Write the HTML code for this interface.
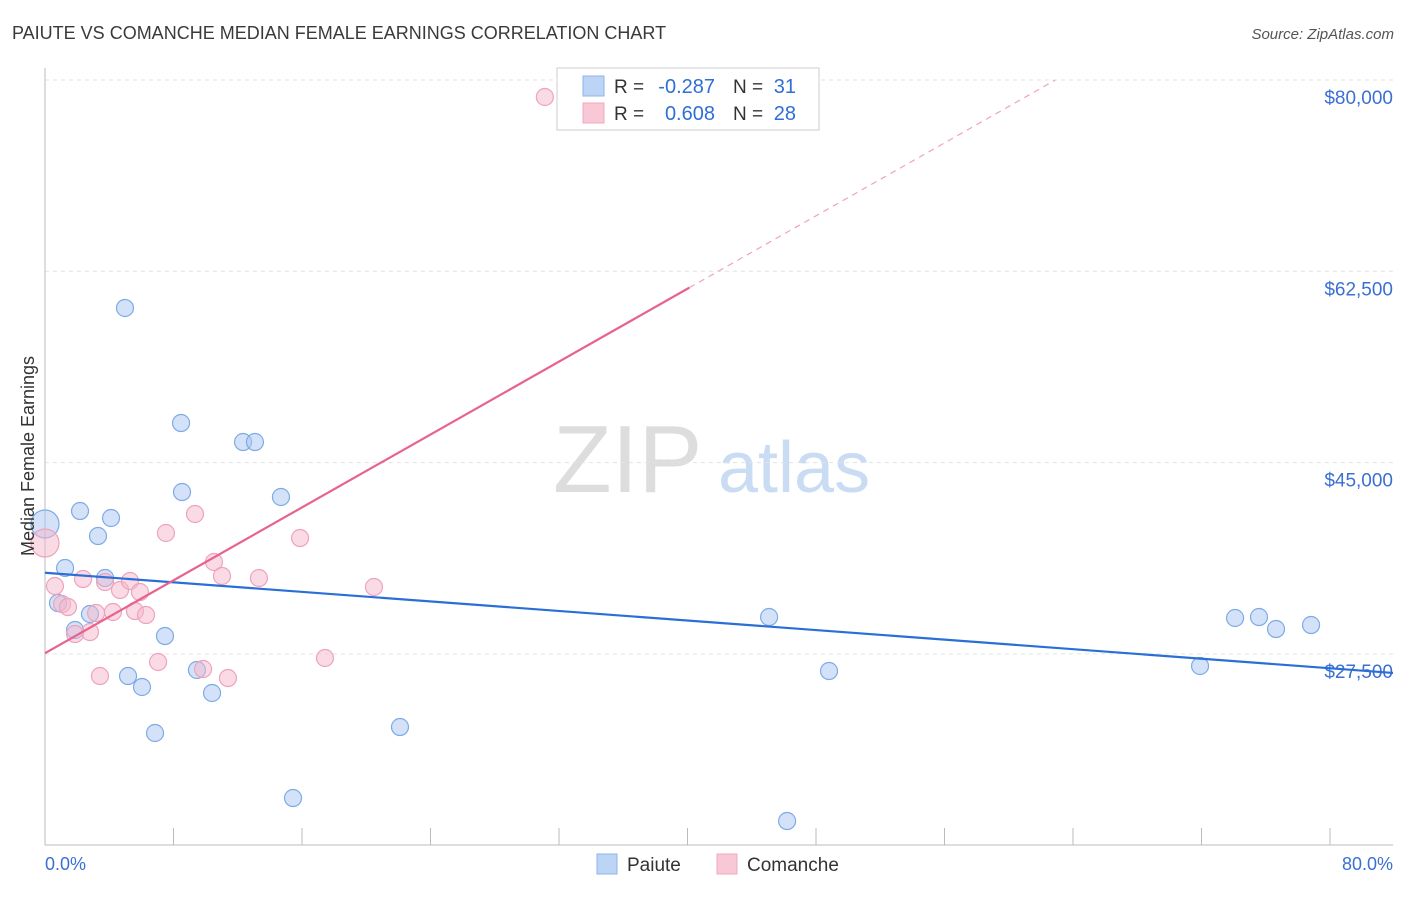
<!DOCTYPE html>
<html><head><meta charset="utf-8"><style>
body{margin:0;background:#fff;font-family:"Liberation Sans",sans-serif;}
svg text{font-family:"Liberation Sans",sans-serif;}
</style></head><body>
<svg id="chart" width="1406" height="892" xmlns="http://www.w3.org/2000/svg">
<text x="12" y="39" font-size="18" fill="#3a3a3a">PAIUTE VS COMANCHE MEDIAN FEMALE EARNINGS CORRELATION CHART</text>
<text x="1394" y="39" font-size="15" fill="#555" font-style="italic" text-anchor="end">Source: ZipAtlas.com</text>
<g>
<text x="553" y="492" font-size="96" fill="#ddd" font-family="Liberation Serif, serif">ZIP</text>
<text x="718" y="492" font-size="72" fill="#c9dcf3">atlas</text>
</g>
<g id="grid"></g>
<g id="axes"></g>
<g id="marks"></g>
<text transform="translate(34,456) rotate(-90)" font-size="18" fill="#333" text-anchor="middle">Median Female Earnings</text>
<g>
<rect x="557" y="68" width="262" height="62" fill="#fff" stroke="#ccc"/>
<rect x="583" y="76" width="21" height="20" fill="#bcd4f5" stroke="#8fb3e8"/>
<rect x="583" y="103" width="21" height="20" fill="#f9c8d6" stroke="#f0a8c0"/>
<text x="614" y="93" font-size="19" fill="#333">R =</text>
<text x="715" y="93" font-size="20" fill="#2f6fd6" text-anchor="end">-0.287</text>
<text x="733" y="93" font-size="19" fill="#333">N =</text>
<text x="796" y="93" font-size="20" fill="#2f6fd6" text-anchor="end">31</text>
<text x="614" y="120" font-size="19" fill="#333">R =</text>
<text x="715" y="120" font-size="20" fill="#2f6fd6" text-anchor="end">0.608</text>
<text x="733" y="120" font-size="19" fill="#333">N =</text>
<text x="796" y="120" font-size="20" fill="#2f6fd6" text-anchor="end">28</text>
</g>
<g>
<rect x="597" y="854" width="20" height="20" fill="#bcd4f5" stroke="#8fb3e8"/>
<text x="627" y="871" font-size="19" fill="#333">Paiute</text>
<rect x="717" y="854" width="20" height="20" fill="#f9c8d6" stroke="#f0a8c0"/>
<text x="747" y="871" font-size="19" fill="#333">Comanche</text>
</g>
<text x="45" y="870" font-size="18" fill="#3b6fd4">0.0%</text>
<text x="1393" y="870" font-size="18" fill="#3b6fd4" text-anchor="end">80.0%</text>
</svg>
<script>
const yTicks=[80000,62500,45000,27500];
const yTickLabels=["$80,000","$62,500","$45,000","$27,500"];
const paiuteX=[0,0.81,1.25,1.87,2.18,2.80,3.30,3.74,4.11,4.98,5.17,6.04,6.85,7.47,8.47,8.53,9.46,10.40,12.33,13.07,14.69,15.44,22.10,45.08,46.20,48.81,71.91,74.09,75.58,76.64,78.82];
const paiuteY=[39383,32156,35358,29686,40572,31150,38285,34443,39932,59143,25478,24472,20264,29137,48622,42310,26027,23923,46884,46884,41853,14317,20812,30875,12213,25935,26393,30784,30875,29777,30143];
const comancheX=[0,0.62,1.06,1.43,1.87,2.37,2.80,3.18,3.42,3.74,4.23,4.67,5.29,5.60,5.91,6.29,7.04,7.53,9.34,9.84,10.52,11.02,11.39,13.32,15.88,17.43,20.48,31.12];
const comancheY=[37645,33711,32064,31790,29320,34351,29503,31241,25478,34077,31333,33345,34169,31424,33162,31058,26759,38560,40298,26118,35907,34626,25295,34443,38102,27125,33620,78445];
const NS="http://www.w3.org/2000/svg";
const X0=45,X1=1330,Y80=80,PXY=191.3/17500;
const xs=v=>X0+v/80*(X1-X0);
const ys=v=>Y80+(80000-v)*PXY;
function mk(tag,attrs,parent){const e=document.createElementNS(NS,tag);for(const k in attrs)e.setAttribute(k,attrs[k]);document.getElementById(parent).appendChild(e);return e;}
yTicks.forEach((t,i)=>{
 const l=mk('line',{x1:45,x2:1393,y1:ys(t),y2:ys(t),stroke:'#e3e3e3','stroke-dasharray':'4,4'},'grid');
 
 
 const tx=mk('text',{x:1393,y:ys(t)+24,'font-size':19,fill:'#3b6fd4','text-anchor':'end'},'grid');
 tx.textContent=yTickLabels[i];
 
 
});
let ax=mk('line',{x1:45,x2:45,y1:68,y2:845,stroke:'#bbb'},'axes');


ax=mk('line',{x1:45,x2:1393,y1:845,y2:845,stroke:'#bbb'},'axes');


for(let i=0;i<=10;i++){
 const t=mk('line',{x1:xs(i*8),x2:xs(i*8),y1:828,y2:845,stroke:'#bbb'},'axes');
 
 
}
function fit(X,Y){const n=X.length;let mx=0,my=0;for(let i=0;i<n;i++){mx+=X[i];my+=Y[i];}mx/=n;my/=n;let sxy=0,sxx=0;for(let i=0;i<n;i++){sxy+=(X[i]-mx)*(Y[i]-my);sxx+=(X[i]-mx)**2;}const b=sxy/sxx;return [my-b*mx,b];}
function dots(X,Y,fill,stroke,name){
 X.forEach((x,i)=>{
  const r=(i===0)?14:8.5;
  const c=mk('circle',{cx:xs(x),cy:ys(Y[i]),r:r,fill:fill,stroke:stroke,'stroke-width':1.2},'marks');
  
  
 });
}
dots(paiuteX,paiuteY,'rgba(168,198,242,0.5)','#7eaae6','paiute-point');
dots(comancheX,comancheY,'rgba(246,182,202,0.5)','#eea3bc','comanche-point');
let [a,b]=fit(paiuteX,paiuteY);
let ln=mk('line',{x1:xs(0),y1:ys(a),x2:1393,y2:ys(a+b*((1393-X0)/(X1-X0)*80)),stroke:'#2a6fd6','stroke-width':2.2},'marks');


[a,b]=fit(comancheX,comancheY);
const xmaxData=Math.max(...comancheX)+9;
ln=mk('line',{x1:xs(0),y1:ys(a),x2:xs(xmaxData),y2:ys(a+b*xmaxData),stroke:'#e8628f','stroke-width':2.2},'marks');


let xe=b>0?(80000-a)/b:80; xe=Math.min(xe,80);
ln=mk('line',{x1:xs(xmaxData),y1:ys(a+b*xmaxData),x2:xs(xe),y2:ys(a+b*xe),stroke:'#eea3bc','stroke-width':1.2,'stroke-dasharray':'6,5'},'marks');


</script>
</body></html>
